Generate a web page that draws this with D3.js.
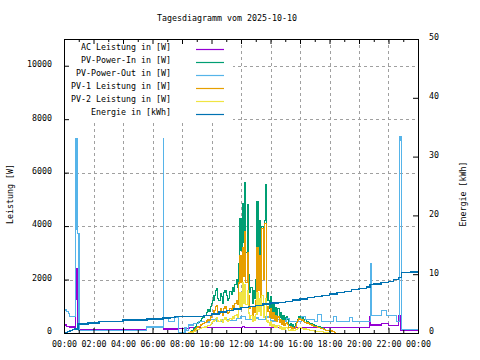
<!DOCTYPE html>
<html><head><meta charset="utf-8">
<script src="https://cdn.jsdelivr.net/npm/d3@7"></script>
<style>
body{margin:0;background:#fff}
svg{display:block}
text{font-family:"DejaVu Sans Mono",monospace;font-size:8.3px;fill:#000}
</style>
</head><body><svg id="c" width="480" height="360"></svg>
<script>
const title = "Tagesdiagramm vom 2025-10-10";
const leftTitle = "Leistung [W]";
const rightTitle = "Energie [kWh]";
const leftTicks = [0, 2000, 4000, 6000, 8000, 10000];
const rightTicks = [0, 10, 20, 30, 40, 50];
const timeTickHours = [0, 2, 4, 6, 8, 10, 12, 14, 16, 18, 20, 22, 24];
const timeTickLabels = ["00:00","02:00","04:00","06:00","08:00","10:00","12:00","14:00","16:00","18:00","20:00","22:00","00:00"];
const seriesNames = ["AC Leistung in [W]","PV-Power-In in [W]","PV-Power-Out in [W]","PV-1 Leistung in [W]","PV-2 Leistung in [W]","Energie in [kWh]"];
const seriesColors = ["#9400d3","#009e73","#56b4e9","#e69f00","#f0e442","#0072b2"];

const pvTimes = [
"08:00","08:05","08:10","08:15","08:20","08:25","08:30","08:35","08:40","08:45","08:50","08:55",
"09:00","09:05","09:10","09:15","09:20","09:25","09:30","09:35","09:40","09:45","09:50","09:55",
"10:00","10:05","10:10","10:15","10:20","10:25","10:30","10:35","10:40","10:45","10:50","10:55",
"11:00","11:05","11:10","11:15","11:20","11:25","11:30","11:35","11:40","11:45","11:50","11:55",
"12:00","12:05","12:10","12:15","12:20","12:25","12:30","12:35","12:40","12:45","12:50","12:55",
"13:00","13:05","13:10","13:15","13:20","13:25","13:30","13:35","13:40","13:45","13:50","13:55",
"14:00","14:05","14:10","14:15","14:20","14:25","14:30","14:35","14:40","14:45","14:50","14:55",
"15:00","15:05","15:10","15:15","15:20","15:25","15:30","15:35","15:40","15:45","15:50","15:55",
"16:00","16:05","16:10","16:15","16:20","16:25","16:30","16:35","16:40","16:45","16:50","16:55",
"17:00","17:05","17:10","17:15","17:20","17:25","17:30","17:35","17:40","17:45","17:50","17:55",
"18:00","18:05","18:10","18:15","18:20","18:25","18:30","18:35","18:40","18:45","18:50","18:55"];

const pvIn = [
null,null,null,null,null,0, 30,60,100,150,200,250,
340,380,420,480,550,600, 670,640,760,860,820,1000,
1120,1230,1400,1600,1680,1300, 1200,1480,1350,1100,1500,1600,
1400,1230,1300,1540,1450,1700, 1550,1800,2000,1700,2600,4300,
3100,4860,3400,5640,3000,4800, 2200,1500,1700,1100,1600,1300,
2000,4900,2500,4200,2000,4000, 2900,4200,5570,1500,1200,900,
1350,800,1100,700,950,650, 900,600,750,500,650,450,
560,610,500,300,360,250, 330,240,350,420,520,610,
580,500,610,450,490,400, 420,380,350,360,300,320,
280,240,260,220,240,200, 180,150,130,110,100,80,
60,0,null,null,null,null, null,null,null,null,null,null];

const pv1 = [
null,null,null,null,null,0, 20,40,70,100,130,160,
210,240,260,300,330,360, 400,380,450,520,480,600,
680,740,850,980,1020,780, 720,900,820,660,900,980,
850,740,780,930,870,1030, 930,1100,1230,1050,1870,2900,
1900,3200,2100,3790,1900,3000, 1400,900,1000,650,950,780,
1200,3200,1600,2900,1300,3900, 2000,4110,4100,1000,800,600,
900,550,750,480,650,450, 600,400,500,330,450,300,
350,400,320,200,240,170, 220,160,240,380,470,550,
520,480,500,420,400,360, 380,350,330,300,280,260,
240,230,220,210,200,180, 160,140,120,110,110,100,
90,80,60,40,20,0, null,null,null,null,null,null];

const pv2 = [
null,null,null,null,null,0, 10,20,30,50,70,90,
130,140,160,170,190,200, 230,220,260,290,280,330,
380,420,480,550,580,450, 420,500,470,400,520,560,
480,420,460,540,500,600, 550,640,700,600,900,1500,
1000,1870,1100,1800,1050,1600, 750,550,650,420,600,480,
700,1500,800,1300,650,1400, 600,1100,1300,450,380,280,
420,250,330,200,280,190, 270,180,230,150,190,130,
190,200,170,110,130,90, 120,90,120,140,170,200,
190,170,180,150,150,130, 130,120,110,100,90,80,
70,65,60,55,50,45, 40,35,30,20,10,0,
null,null,null,null,null,null, null,null,null,null,null,null];

const acPower = [
["00:00",300],["00:11",260],["00:24",225],["00:45",190],
["00:47",2400],["00:48",1270],["00:49",2400],["00:50",1300],["00:51",2380],["00:52",1270],["00:53",2400],["00:54",140],
["01:30",120],["05:36",260],["06:44",150],["07:40",180],["08:30",190],["12:05",250],["12:15",200],
["18:15",210],["20:44",610],["20:47",300],["21:30",340],["22:00",280],["22:40",640],["22:49",110],["24:00",110]];

const pvOut = [
["00:00",860],["00:11",800],["00:18",740],["00:24",610],["00:45",3890],["00:49",7280],["00:51",7150],["00:53",7280],["00:56",3730],["01:01",110],
["05:36",225],["06:44",7280],["06:45",560],["07:04",420],["07:30",600],["07:45",20],["08:12",210],["08:17",110],
["08:26",300],["08:46",340],["09:06",420],["09:30",380],["09:50",490],["10:20",440],["10:45",520],["11:10",460],
["11:40",550],["12:00",610],["12:20",500],["12:45",560],["13:10",520],["13:40",600],["14:00",450],["14:20",490],
["14:46",450],["15:06",550],["15:18",420],["16:06",610],["16:24",490],["17:00",420],["17:12",700],["17:28",420],
["18:16",610],["18:30",420],["19:23",590],["19:35",420],["20:45",2580],["20:52",640],["21:32",830],["21:53",670],
["22:33",420],["22:44",7340],["22:47",7200],["22:50",7340],["22:53",140],["24:00",140]];

const energy = [
["00:00",0],["00:05",0.1],["00:15",0.25],["00:25",0.4],["00:35",0.55],["00:45",0.7],["00:57",1.5],["01:38",1.7],
["02:22",2.0],["04:00",2.2],["05:38",2.4],["06:43",2.55],["07:11",2.65],["07:32",2.8],["09:30",2.95],["10:00",3.25],
["10:30",3.55],["11:00",3.85],["11:30",4.1],["12:00",4.35],["12:30",4.55],["13:00",4.7],["13:30",4.9],["14:00",5.1],
["14:30",5.2],["15:00",5.4],["15:30",5.6],["16:00",5.78],["16:30",6.0],["17:00",6.2],["17:30",6.4],["18:00",6.6],
["18:30",6.85],["19:00",7.1],["19:30",7.35],["20:00",7.6],["20:30",7.8],["20:45",8.2],["21:00",8.3],["21:30",8.55],
["22:00",8.8],["22:20",9.1],["22:40",9.4],["22:53",10.25],["23:30",10.35],["24:00",10.45]];

const toH = s => { const [h, m] = s.split(":").map(Number); return h + m / 60; };

const svg = d3.select("#c");
const L = 64, R = 418, T = 39, B = 333;
const x = d3.scaleLinear().domain([0, 24]).range([L, R]);
const yL = d3.scaleLinear().domain([0, 11000]).range([B, T]);
const yR = d3.scaleLinear().domain([0, 50]).range([B, T]);

// grid
const grid = svg.append("g").attr("stroke", "#a0a0a0").attr("stroke-dasharray", "3,3").attr("stroke-width", 1);
leftTicks.filter(v => v > 0).forEach(v => {
  grid.append("line").attr("x1", L).attr("x2", R).attr("y1", Math.round(yL(v)) + 0.5).attr("y2", Math.round(yL(v)) + 0.5);
});
timeTickHours.filter(h => h > 0 && h < 24).forEach(h => {
  grid.append("line").attr("y1", T).attr("y2", B).attr("x1", Math.round(x(h)) + 0.5).attr("x2", Math.round(x(h)) + 0.5);
});

svg.append("clipPath").attr("id", "clip").append("rect").attr("x", L).attr("y", T).attr("width", R - L).attr("height", B - T);
const plot = svg.append("g").attr("clip-path", "url(#clip)");

const mkLine = ys => d3.line().defined(d => d[1] != null)
  .x(d => x(toH(d[0]))).y(d => ys(d[1])).curve(d3.curveStepAfter);

const pvData = arr => pvTimes.map((t, i) => [t, arr[i]]);
const series = [
  {data: acPower, y: yL},
  {data: pvData(pvIn), y: yL},
  {data: pvOut, y: yL},
  {data: pvData(pv1), y: yL},
  {data: pvData(pv2), y: yL},
  {data: energy, y: yR}
];
series.forEach((s, i) => {
  plot.append("path").attr("d", mkLine(s.y)(s.data))
    .attr("fill", "none").attr("stroke", seriesColors[i])
    .attr("stroke-width", i === 5 ? 1.4 : 1.1)
    .attr("shape-rendering", "crispEdges");
});

// legend (opaque key)
svg.append("rect").attr("x", L + 1).attr("y", T + 1).attr("width", 232 - L).attr("height", 119 - T).attr("fill", "#fff");
const leg = svg.append("g");
seriesNames.forEach((n, i) => {
  const yy = 49 + 13 * i;
  leg.append("text").attr("x", 171).attr("y", yy + 0.5).attr("text-anchor", "end").text(n);
  leg.append("line").attr("x1", 196).attr("x2", 224).attr("y1", yy + 0.5).attr("y2", yy + 0.5)
    .attr("stroke", seriesColors[i]).attr("stroke-width", 1.2);
});

// axes
const axBottom = svg.append("g").attr("transform", `translate(0,${B})`)
  .call(d3.axisBottom(x).tickValues(timeTickHours).tickSize(-5).tickPadding(8)
    .tickFormat((d, i) => timeTickLabels[i]));
const axTop = svg.append("g").attr("transform", `translate(0,${T})`)
  .call(d3.axisTop(x).tickValues(timeTickHours).tickSize(-5).tickFormat(""));
const minorH = [1, 3, 5, 7, 9, 11, 13, 15, 17, 19, 21, 23];
svg.append("g").attr("transform", `translate(0,${B})`)
  .call(d3.axisBottom(x).tickValues(minorH).tickSize(-3).tickFormat(""));
svg.append("g").attr("transform", `translate(0,${T})`)
  .call(d3.axisTop(x).tickValues(minorH).tickSize(-3).tickFormat(""));
const axLeft = svg.append("g").attr("transform", `translate(${L},0)`)
  .call(d3.axisLeft(yL).tickValues(leftTicks).tickSize(-5).tickPadding(12).tickFormat(d3.format("d")));
const axRight = svg.append("g").attr("transform", `translate(${R},0)`)
  .call(d3.axisRight(yR).tickValues(rightTicks).tickSize(-5).tickPadding(11).tickFormat(d3.format("d")));
svg.selectAll(".domain").remove();
svg.selectAll(".tick line").attr("stroke", "#000");
svg.selectAll("g[font-family]").attr("font-family", null).attr("font-size", null);
svg.selectAll(".tick text").attr("fill", "#000");
axLeft.selectAll(".tick text").attr("dy", "0.1em");
axRight.selectAll(".tick text").attr("dy", "0.1em");

svg.append("rect").attr("x", L + 0.5).attr("y", T + 0.5).attr("width", R - L).attr("height", B - T)
  .attr("fill", "none").attr("stroke", "#000").attr("stroke-width", 1);

svg.append("text").attr("x", 227).attr("y", 21).attr("text-anchor", "middle").text(title);
svg.append("text").attr("transform", "translate(12.5,194) rotate(-90)").attr("text-anchor", "middle").text(leftTitle);
svg.append("text").attr("transform", "translate(465.5,194) rotate(-90)").attr("text-anchor", "middle").text(rightTitle);
</script>
</body></html>
